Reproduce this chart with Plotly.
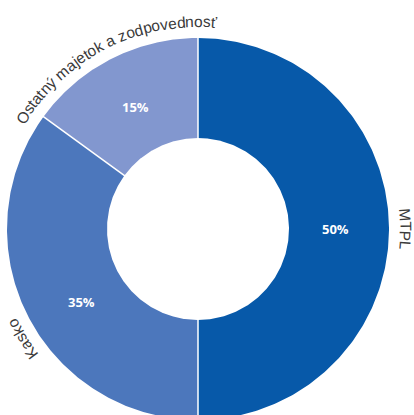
import numpy as np
import plotly.graph_objects as go

# ---- data -------------------------------------------------------------
categories = ["MTPL", "Kasko", "Ostatný majetok a zodpovednosť"]
shares = [50, 35, 15]
share_labels = ["50%", "35%", "15%"]

# ---- styling / geometry (pixel space) ---------------------------------
W, H = 414, 415
CX, CY = 198, 229
R_OUT, R_IN = 191, 91
R_PCT = 137            # radius of the percentage labels
R_BASE = 202           # baseline radius of the curved category names
colors = ["#0759A9", "#4C77BC", "#8297CF"]
label_nudge = [0, -5, 0]   # degrees, keeps the Kasko labels clear of the lower edge
NAME_SIZE = 15.5
NAME_COLOR = "#3a3a3a"
NAME_FONT = "Liberation Sans"

# Arial/Liberation Sans advance widths (em) for the curved text
ADV = {" ": .278, "O": .778, "s": .5, "t": .278, "a": .556, "n": .556, "ý": .5,
       "m": .833, "j": .222, "e": .556, "o": .556, "k": .5, "z": .5, "d": .556,
       "p": .556, "v": .5, "ť": .34, "M": .833, "T": .611, "P": .667, "L": .556,
       "K": .667}


def polar(theta_deg, r):
    """Clockwise angle from 12 o'clock -> pixel coordinates (y grows downward)."""
    t = np.radians(theta_deg)
    return CX + r * np.sin(t), CY - r * np.cos(t)


fig = go.Figure()

total = float(sum(shares))
bounds = []
start = 0.0
for cat, val, col in zip(categories, shares, colors):
    end = start + val / total * 360.0
    bounds.append((start, end))
    th = np.linspace(start, end, 240)
    xo, yo = polar(th, R_OUT)
    xi, yi = polar(th[::-1], R_IN)
    xs = np.concatenate([xo, xi, xo[:1]])
    ys = np.concatenate([yo, yi, yo[:1]])
    fig.add_trace(go.Scatter(x=xs, y=ys, mode="lines", fill="toself",
                             fillcolor=col, line=dict(width=0, color=col),
                             hoverinfo="skip", showlegend=False, name=cat))
    start = end

# white separators between the slices
sx, sy = [], []
for a0, _ in bounds:
    x0, y0 = polar(a0, R_IN - 1)
    x1, y1 = polar(a0, R_OUT + 1)
    sx += [x0, x1, None]
    sy += [y0, y1, None]
fig.add_trace(go.Scatter(x=sx, y=sy, mode="lines",
                         line=dict(color="white", width=1.5),
                         hoverinfo="skip", showlegend=False))

annotations = []
for (a0, a1), pct, name, nudge in zip(bounds, share_labels, categories, label_nudge):
    mid = (a0 + a1) / 2 + nudge

    # percentage inside the ring
    px, py = polar(mid, R_PCT)
    annotations.append(dict(x=px, y=py, xref="x", yref="y", text=pct,
                            showarrow=False,
                            font=dict(family="Open Sans", size=13, color="white",
                                      weight=700)))

    # category name written along the outside of the ring
    widths = [ADV.get(ch, .556) * NAME_SIZE for ch in name]
    total_w = sum(widths)
    r_mid = R_BASE + 0.36 * NAME_SIZE
    pos = -total_w / 2
    for ch, w in zip(name, widths):
        centre = pos + w / 2
        pos += w
        if ch == " ":
            continue
        ang = mid + np.degrees(centre / R_BASE)
        cx, cy = polar(ang, r_mid)
        rot = ((ang + 180) % 360) - 180
        annotations.append(dict(x=cx, y=cy, xref="x", yref="y", text=ch,
                                showarrow=False, textangle=rot, borderpad=0,
                                xanchor="center", yanchor="middle",
                                font=dict(family=NAME_FONT, size=NAME_SIZE,
                                          color=NAME_COLOR)))

fig.update_layout(
    width=W, height=H,
    margin=dict(l=0, r=0, t=0, b=0),
    paper_bgcolor="white", plot_bgcolor="white",
    xaxis=dict(range=[0, W], visible=False, fixedrange=True),
    yaxis=dict(range=[H, 0], visible=False, fixedrange=True),
    annotations=annotations,
    showlegend=False,
)

fig.write_html("out.html")
